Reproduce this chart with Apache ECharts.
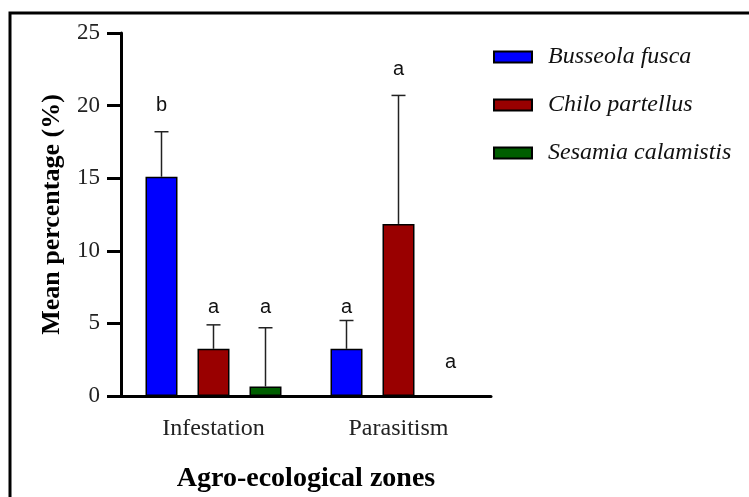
<!DOCTYPE html>
<html>
<head>
<meta charset="utf-8">
<script src="https://cdn.jsdelivr.net/npm/echarts@6/dist/echarts.min.js"></script>
<style>
html, body { margin: 0; padding: 0; background: #fff; }
#chart { width: 749px; height: 497px; }
</style>
</head>
<body>
<div id="chart"></div>
<script>
// data
var zones = ['Infestation', 'Parasitism']
var species = ['Busseola fusca', 'Chilo partellus', 'Sesamia calamistis']
var busseolaMean = [15.1, 3.25]
var chiloMean = [3.25, 11.85]
var sesamiaMean = [0.65, 0]
var busseolaUpper = [18.2, 5.2]
var chiloUpper = [4.9, 20.7]
var sesamiaUpper = [4.7, null]
var busseolaLetter = ['b', 'a']
var chiloLetter = ['a', 'a']
var sesamiaLetter = ['a', 'a']
var busseolaLetterY = [20.0, 6.1]
var chiloLetterY = [6.1, 22.5]
var sesamiaLetterY = [6.1, 2.3]
var yTicks = [0, 5, 10, 15, 20, 25]

var colors = ['#0000ff', '#990000', '#005e00']
var barW = 32
var step = 52

var means = [busseolaMean, chiloMean, sesamiaMean]
var uppers = [busseolaUpper, chiloUpper, sesamiaUpper]
var letters = [busseolaLetter, chiloLetter, sesamiaLetter]
var letterYs = [busseolaLetterY, chiloLetterY, sesamiaLetterY]

var serif = 'Liberation Serif, Times New Roman, serif'

var series = []
species.forEach(function (name, i) {
  series.push({
    name: name,
    type: 'bar',
    barWidth: barW,
    barGap: '62.5%',
    itemStyle: { color: colors[i], borderColor: '#000', borderWidth: 1.5 },
    data: means[i]
  })
})
// error bars (upper only) and letters
species.forEach(function (name, i) {
  var offset = (i - 1) * step
  series.push({
    name: name + ' error',
    type: 'custom',
    z: 3,
    data: zones.map(function (z, k) {
      return [k, means[i][k], uppers[i][k] == null ? means[i][k] : uppers[i][k], letterYs[i][k]]
    }),
    renderItem: function (params, api) {
      var k = api.value(0)
      var base = api.coord([k, api.value(1)])
      var top = api.coord([k, api.value(2)])
      var lab = api.coord([k, api.value(3)])
      var x = base[0] + offset
      var children = []
      if (api.value(2) > api.value(1)) {
        children.push({
          type: 'line',
          shape: { x1: x, y1: base[1], x2: x, y2: top[1] },
          style: { stroke: '#222', lineWidth: 1.5 }
        })
        children.push({
          type: 'line',
          shape: { x1: x - 7, y1: top[1], x2: x + 7, y2: top[1] },
          style: { stroke: '#222', lineWidth: 1.5 }
        })
      }
      children.push({
        type: 'text',
        style: {
          x: x, y: lab[1], text: letters[i][k],
          align: 'center', verticalAlign: 'middle',
          font: '20px Liberation Sans, Arial, sans-serif', fill: '#111'
        }
      })
      return { type: 'group', children: children }
    }
  })
})

var option = {
  animation: false,
  backgroundColor: '#fff',
  graphic: [{
    type: 'rect',
    shape: { x: 10, y: 13, width: 900, height: 700 },
    style: { fill: 'none', stroke: '#000', lineWidth: 3 },
    silent: true
  }],
  legend: {
    data: species,
    orient: 'vertical',
    left: 488,
    top: 40,
    icon: 'rect',
    itemWidth: 38,
    itemHeight: 11,
    itemGap: 24,
    textStyle: {
      fontFamily: serif, fontStyle: 'italic', fontSize: 24, color: '#111',
      padding: [0, 0, 0, 11]
    }
  },
  grid: { left: 121, right: 258, top: 33, bottom: 101, outerBoundsMode: 'none', containLabel: false },
  xAxis: {
    type: 'category',
    data: zones,
    name: 'Agro-ecological zones',
    nameLocation: 'middle',
    nameGap: 69,
    nameTextStyle: { fontFamily: serif, fontWeight: 'bold', fontSize: 28, color: '#000' },
    axisLine: { lineStyle: { color: '#000', width: 3 } },
    axisTick: { alignWithLabel: true, length: 14, lineStyle: { width: 3, color: '#000' } },
    axisLabel: { fontFamily: serif, fontSize: 24, color: '#222', margin: 21 }
  },
  yAxis: {
    type: 'value',
    min: 0,
    max: 25,
    interval: 5,
    name: 'Mean percentage (%)',
    nameLocation: 'middle',
    nameGap: 56,
    nameTextStyle: { fontFamily: serif, fontWeight: 'bold', fontSize: 26, color: '#000' },
    axisLine: { show: true, lineStyle: { color: '#000', width: 3 } },
    axisTick: { show: true, length: 14, lineStyle: { width: 3, color: '#000' } },
    axisLabel: {
      fontFamily: serif, fontSize: 23, color: '#222', margin: 21,
      formatter: function (v) { return yTicks.indexOf(v) >= 0 ? String(v) : '' }
    },
    splitLine: { show: false }
  },
  series: series
}

var chart = echarts.init(document.getElementById('chart'))
chart.setOption(option)
</script>
</body>
</html>
